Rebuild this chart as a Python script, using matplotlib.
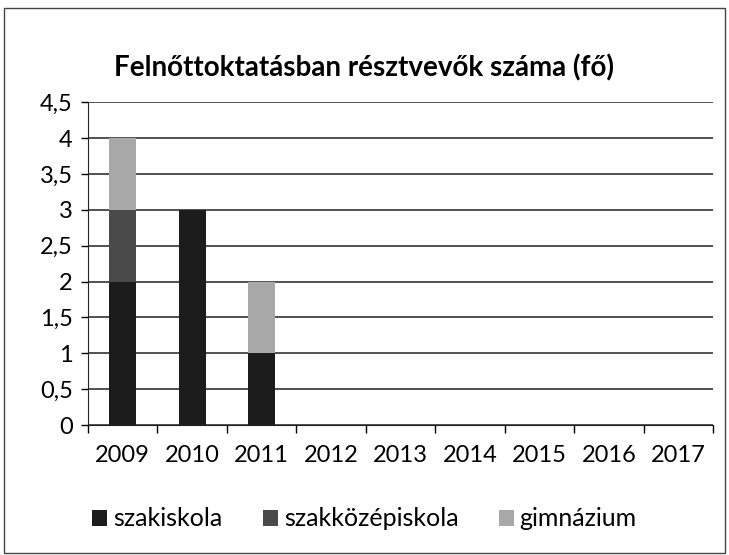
import matplotlib.pyplot as plt
import matplotlib.patches as patches
import numpy as np

years = ['2009', '2010', '2011', '2012', '2013', '2014', '2015', '2016', '2017']
szakiskola = [2, 3, 1, 0, 0, 0, 0, 0, 0]
szakkozep = [1, 0, 0, 0, 0, 0, 0, 0, 0]
gimnazium = [1, 0, 1, 0, 0, 0, 0, 0, 0]
series_names = ['szakiskola', 'szakközépiskola', 'gimnázium']
colors = ['#1c1c1c', '#4a4a4a', '#a8a8a8']

plt.rcParams['font.family'] = ['Lato', 'DejaVu Sans']

fig = plt.figure(figsize=(7.29, 5.55), dpi=100)
ax = fig.add_axes([0.1207, 0.234, 0.858, 0.582])

x = np.arange(len(years))
w = 0.39
bottom = np.zeros(len(years))
handles = []
for vals, name, col in zip([szakiskola, szakkozep, gimnazium], series_names, colors):
    b = ax.bar(x, vals, w, bottom=bottom, color=col, label=name, zorder=3)
    handles.append(b)
    bottom += np.array(vals)

ax.set_xlim(-0.5, len(years) - 0.5)
ax.set_ylim(0, 4.5)
yt = np.arange(0, 4.51, 0.5)
ax.set_yticks(yt)
ax.set_yticklabels([('%g' % v).replace('.', ',') for v in yt], fontsize=17)
ax.set_xticks(x)
ax.set_xticklabels(years, fontsize=17)
ax.set_xticks(np.arange(-0.5, len(years)), minor=True)
ax.tick_params(axis='x', which='major', length=0, pad=14)
ax.tick_params(axis='x', which='minor', length=6, width=1, direction='out')
ax.tick_params(axis='y', length=5, width=1, direction='out', pad=6)
ax.yaxis.grid(True, color='#222222', linewidth=1.1, zorder=0)
ax.set_axisbelow(True)
for s in ['top', 'right']:
    ax.spines[s].set_visible(False)
ax.spines['left'].set_color('#222222')
ax.spines['bottom'].set_color('#222222')

fig.text(0.5, 0.877, 'Felnőttoktatásban résztvevők száma (fő)', ha='center', va='center',
         fontsize=20, fontweight='bold')

fig.legend(handles=handles, labels=series_names, loc='center', bbox_to_anchor=(0.5, 0.065),
           ncol=3, frameon=False, fontsize=18, handlelength=0.6, handleheight=0.6,
           handletextpad=0.25, columnspacing=1.6)

fig.patches.append(patches.Rectangle((0.006, 0.004), 0.988, 0.982, transform=fig.transFigure,
                                     fill=False, edgecolor='#444444', linewidth=1))

fig.savefig('out.png', dpi=100, facecolor='white')
